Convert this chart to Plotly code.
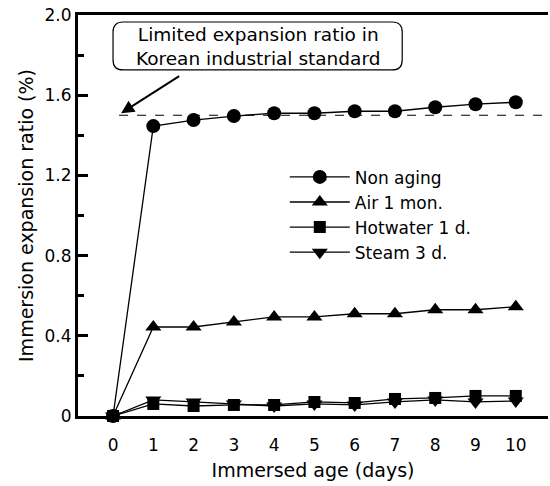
import plotly.graph_objects as go

days = [0, 1, 2, 3, 4, 5, 6, 7, 8, 9, 10]
non_aging = [0, 1.446, 1.476, 1.496, 1.51, 1.51, 1.52, 1.52, 1.54, 1.555, 1.565]
air_1mon = [0, 0.444, 0.444, 0.469, 0.494, 0.494, 0.51, 0.51, 0.53, 0.53, 0.545]
hotwater_1d = [0, 0.06, 0.05, 0.055, 0.055, 0.07, 0.065, 0.085, 0.09, 0.1, 0.1]
steam_3d = [0, 0.08, 0.07, 0.06, 0.05, 0.06, 0.055, 0.07, 0.08, 0.07, 0.075]
limit = 1.5
y_ticks = [0, 0.4, 0.8, 1.2, 1.6, 2.0]
y_ticktext = ["0", "0.4", "0.8", "1.2", "1.6", "2.0"]

FONT = "DejaVu Sans, Liberation Sans, Arial, sans-serif"

series = [
    ("Non aging", non_aging, "circle", 14),
    ("Air 1 mon.", air_1mon, "triangle-up", 14),
    ("Hotwater 1 d.", hotwater_1d, "square", 12),
    ("Steam 3 d.", steam_3d, "triangle-down", 14),
]

fig = go.Figure()
# limit dashed line
fig.add_trace(go.Scatter(x=[0.15, 10.8], y=[limit, limit], mode="lines",
                         line=dict(color="black", width=1.2, dash="dash"),
                         showlegend=False, hoverinfo="skip"))
for name, vals, sym, sz in series:
    fig.add_trace(go.Scatter(x=days, y=vals, mode="lines+markers", name=name,
                             line=dict(color="black", width=1.3),
                             marker=dict(symbol=sym, size=sz, color="black"),
                             cliponaxis=False))

# rounded box for annotation
x0, x1, y0, y1 = 0.0, 7.18, 1.726, 1.965
rx, ry = 0.25, 0.05
path = (f"M {x0+rx},{y1} L {x1-rx},{y1} Q {x1},{y1} {x1},{y1-ry} "
        f"L {x1},{y0+ry} Q {x1},{y0} {x1-rx},{y0} L {x0+rx},{y0} "
        f"Q {x0},{y0} {x0},{y0+ry} L {x0},{y1-ry} Q {x0},{y1} {x0+rx},{y1} Z")
fig.add_shape(type="path", path=path, xref="x", yref="y",
              line=dict(color="black", width=1.2), fillcolor="white")

fig.add_annotation(x=3.59, y=1.845, xref="x", yref="y",
                   text="Limited expansion ratio in<br>Korean industrial standard",
                   showarrow=False, font=dict(family=FONT, size=18.5, color="black"),
                   align="center")
fig.add_annotation(x=0.2, y=1.51, ax=1.68, ay=1.70, xref="x", yref="y",
                   axref="x", ayref="y", text="", showarrow=True,
                   arrowhead=2, arrowsize=1.3, arrowwidth=2, arrowcolor="black")

fig.update_layout(
    width=550, height=486,
    margin=dict(l=78, r=2, t=15, b=70),
    paper_bgcolor="white", plot_bgcolor="white",
    font=dict(family=FONT, size=16, color="black"),
    showlegend=True,
    legend=dict(x=0.44, y=0.64, xanchor="left", yanchor="top",
                bgcolor="rgba(0,0,0,0)", font=dict(size=17),
                itemwidth=60, tracegroupgap=0),
)
fig.update_xaxes(range=[-0.87, 10.8], tickvals=days, ticks="",
                 showgrid=False, zeroline=False, showline=True,
                 linecolor="black", linewidth=3, mirror=True,
                 ticklabelstandoff=12,
                 title=dict(text="Immersed age (days)", font=dict(size=19), standoff=10),
                 tickfont=dict(size=17))
fig.update_yaxes(range=[0, 2.0], tickvals=y_ticks, ticktext=y_ticktext,
                 ticks="inside", ticklen=10, tickwidth=3, tickcolor="black",
                 minor=dict(dtick=0.2, ticks="inside", ticklen=6, tickwidth=3,
                            tickcolor="black", tick0=0),
                 showgrid=False, zeroline=False, showline=True,
                 linecolor="black", linewidth=3,
                 title=dict(text="Immersion expansion ratio (%)", font=dict(size=19), standoff=6),
                 tickfont=dict(size=17))

fig.write_html("out.html")
